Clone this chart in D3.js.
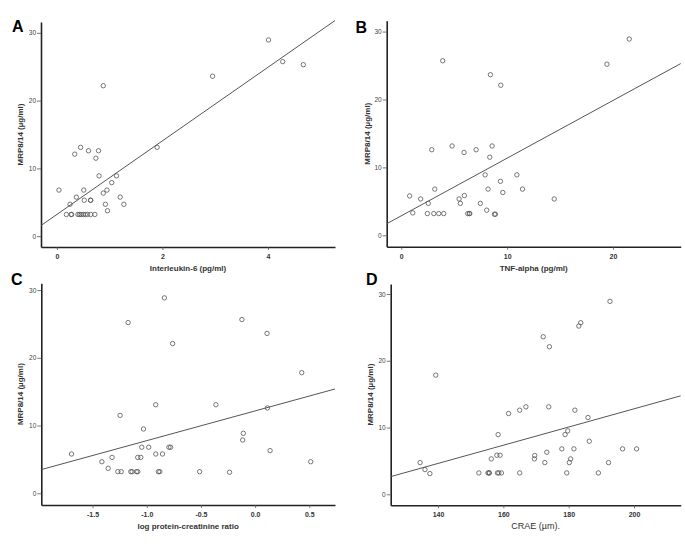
<!DOCTYPE html>
<html>
<head>
<meta charset="utf-8">
<script src="https://cdn.jsdelivr.net/npm/d3@7"></script>
<style>
  html, body { margin: 0; padding: 0; background: #fff; }
  svg { display: block; font-family: "Liberation Sans", Arial, sans-serif; }
</style>
</head>
<body>
<svg id="chart" width="685" height="546"></svg>
<script>
// ---------------- DATA ----------------
// Panel A: Interleukin-6 (pg/ml) vs MRP8/14
const il6X = [0.88, 2.95, 4.01, 4.28, 4.67,
  0.45, 0.34, 0.60, 0.79, 0.74, 1.90, 0.80, 1.13, 1.04, 0.04, 0.51, 0.95, 0.88,
  0.37, 1.20, 0.52, 0.64, 0.64, 0.25, 0.92, 1.27, 0.96,
  0.18, 0.27, 0.28, 0.40, 0.43, 0.46, 0.50, 0.54, 0.58, 0.64, 0.72];
const il6Y = [22.2, 23.6, 28.95, 25.75, 25.3,
  13.1, 12.1, 12.6, 12.6, 11.5, 13.1, 8.9, 8.9, 7.9, 6.8, 6.8, 6.8, 6.35,
  5.76, 5.76, 5.3, 5.3, 5.3, 4.7, 4.7, 4.7, 3.75,
  3.2, 3.2, 3.2, 3.2, 3.2, 3.2, 3.2, 3.2, 3.2, 3.2, 3.2];
// Panel B: TNF-alpha (pg/ml) vs MRP8/14
const tnfX = [3.91, 8.42, 9.40, 19.43, 21.54,
  2.88, 4.80, 5.93, 7.07, 8.58, 8.36, 7.92, 10.92, 9.37, 3.16, 8.20, 11.45, 9.59,
  0.79, 5.96, 1.83, 5.46, 14.45, 2.55, 5.58, 7.47, 8.07,
  1.08, 2.46, 3.07, 3.54, 4.01, 6.28, 6.43, 6.47, 8.80, 8.89];
const tnfY = [25.7, 23.65, 22.1, 25.2, 28.9,
  12.6, 13.15, 12.2, 12.6, 13.15, 11.5, 8.9, 8.9, 7.95, 6.8, 6.8, 6.8, 6.3,
  5.8, 5.85, 5.35, 5.35, 5.35, 4.7, 4.7, 4.7, 3.7,
  3.3, 3.2, 3.2, 3.2, 3.2, 3.2, 3.2, 3.2, 3.1, 3.1];
// Panel C: log protein-creatinine ratio vs MRP8/14
const pcrX = [-1.172, -0.837, -0.761, -0.122, 0.11, 0.43,
  -0.917, -0.362, 0.113, -1.246, -1.03, -0.109, -0.115, -1.694, -1.046, -0.982,
  -0.795, -0.78, -0.917, -0.855, 0.138, -1.414, -1.32, -1.083, -1.055, 0.513, -1.356,
  -1.267, -1.236, -1.147, -1.135, -1.095, -1.083, -0.892, -0.88, -0.512, -0.236];
const pcrY = [25.2, 28.85, 22.1, 25.65, 23.6, 17.8,
  13.07, 13.07, 12.6, 11.5, 9.5, 8.85, 7.86, 5.8, 6.8, 6.8,
  6.8, 6.8, 5.8, 5.8, 6.3, 4.66, 5.3, 5.3, 5.3, 4.66, 3.68,
  3.19, 3.19, 3.19, 3.19, 3.19, 3.19, 3.19, 3.19, 3.19, 3.1];
// Panel D: CRAE (µm) vs MRP8/14
const craeX = [139.3, 172.2, 174.1, 183.1, 183.7, 192.65,
  166.9, 173.9, 165.0, 181.9, 161.6, 185.9, 158.4, 179.7, 178.9, 186.3,
  177.9, 181.6, 196.5, 200.8, 173.3, 158.0, 159.0, 169.6, 156.3, 169.5, 180.6,
  134.5, 172.7, 180.2, 192.2, 136.0,
  137.5, 152.5, 155.3, 155.6, 155.7, 158.2, 158.6, 159.4, 165.0, 179.4, 189.1];
const craeY = [17.85, 23.6, 22.1, 25.2, 25.7, 28.9,
  13.1, 13.1, 12.6, 12.6, 12.1, 11.5, 8.94, 9.5, 8.94, 7.95,
  6.8, 6.8, 6.8, 6.8, 6.3, 5.85, 5.85, 5.8, 5.3, 5.3, 5.3,
  4.75, 4.75, 4.75, 4.75, 3.7,
  3.1, 3.2, 3.2, 3.2, 3.2, 3.2, 3.2, 3.2, 3.2, 3.2, 3.2];

// Fitted regression lines [intercept, slope]
const fitA = [3.2, 5.43];
const fitB = [2.87, 0.849];
const fitC = [12.16, 4.39];
const fitD = [-14.46, 0.1363];

// Tick values and labels
const yTicks = [0, 10, 20, 30];
const ticksA = [0, 2, 4];
const ticksB = [0, 10, 20];
const ticksC = [-1.5, -1.0, -0.5, 0.0, 0.5];
const ticksCLabels = ["-1.5", "-1.0", "-0.5", "0.0", "0.5"];
const ticksD = [140, 160, 180, 200];

const letters = ["A", "B", "C", "D"];
const xTitles = ["Interleukin-6 (pg/ml)", "TNF-alpha (pg/ml)", "log protein-creatinine ratio", "CRAE (\u00b5m)."];
const yTitle = "MRP8/14 (\u00b5g/ml)";

// ---------------- LAYOUT ----------------
const panels = [
  { x: il6X, y: il6Y, fit: fitA, xt: ticksA, xl: null,
    left: 41, right: 335, top: 22, bottom: 247, xd: [-0.3, 5.27], yd: [-1.6, 31.6],
    letter: [12, 32.3], ylab: 23, xtw: "bold", xts: 8 },
  { x: tnfX, y: tnfY, fit: fitB, xt: ticksB, xl: null,
    left: 386.7, right: 680.7, top: 20.7, bottom: 246.7, xd: [-1.38, 26.4], yd: [-1.68, 31.6],
    letter: [355.5, 32.6], ylab: 370, xtw: "bold", xts: 8 },
  { x: pcrX, y: pcrY, fit: fitC, xt: ticksC, xl: ticksCLabels,
    left: 41.3, right: 335, top: 283.3, bottom: 505, xd: [-1.973, 0.737], yd: [-1.73, 31.0],
    letter: [11, 285], ylab: 23, xtw: "bold", xts: 8 },
  { x: craeX, y: craeY, fit: fitD, xt: ticksD, xl: null,
    left: 390.7, right: 680.7, top: 284, bottom: 505.3, xd: [125.5, 214.3], yd: [-1.65, 31.5],
    letter: [366, 285], ylab: 373, xtw: "normal", xts: 9 }
];

const svg = d3.select("#chart");

panels.forEach((p, i) => {
  const xs = d3.scaleLinear().domain(p.xd).range([p.left, p.right]);
  const ys = d3.scaleLinear().domain(p.yd).range([p.bottom, p.top]);
  const g = svg.append("g");

  // y axis
  const ya = g.append("g").attr("transform", `translate(${p.left},0)`)
    .call(d3.axisLeft(ys).tickValues(yTicks).tickSize(4).tickSizeOuter(0).tickPadding(1).tickFormat(d3.format("d")));
  ya.select(".domain").attr("stroke", "#222").attr("stroke-width", 1.6);
  ya.selectAll(".tick line").attr("stroke", "#555").attr("stroke-width", 0.8);
  ya.selectAll(".tick text").attr("font-size", 6.5).attr("fill", "#444")
    .attr("font-family", "'Liberation Sans', Arial, sans-serif");

  // x axis
  const xa = g.append("g").attr("transform", `translate(0,${p.bottom})`)
    .call(d3.axisBottom(xs).tickValues(p.xt).tickSize(3).tickSizeOuter(0).tickPadding(4)
      .tickFormat((d, k) => p.xl ? p.xl[k] : d3.format("d")(d)));
  xa.select(".domain").attr("stroke", "#222").attr("stroke-width", 1.6);
  xa.selectAll(".tick line").attr("stroke", "#555").attr("stroke-width", 0.8);
  xa.selectAll(".tick text").attr("font-size", 7).attr("font-weight", "bold").attr("fill", "#333")
    .attr("font-family", "'Liberation Sans', Arial, sans-serif");

  // regression line
  const x0 = p.xd[0], x1 = p.xd[1];
  g.append("line")
    .attr("x1", xs(x0)).attr("y1", ys(p.fit[0] + p.fit[1] * x0))
    .attr("x2", xs(x1)).attr("y2", ys(p.fit[0] + p.fit[1] * x1))
    .attr("stroke", "#555").attr("stroke-width", 1);

  // points
  g.selectAll("circle.pt").data(p.x.map((v, k) => [v, p.y[k]])).enter()
    .append("circle").attr("class", "pt")
    .attr("cx", d => xs(d[0])).attr("cy", d => ys(d[1])).attr("r", 2.2)
    .attr("fill", "none").attr("stroke", "#555").attr("stroke-width", 0.8);

  // x title
  g.append("text").attr("x", (p.left + p.right) / 2).attr("y", p.bottom + 24)
    .attr("text-anchor", "middle").attr("font-size", p.xts).attr("font-weight", p.xtw).attr("fill", "#333")
    .text(xTitles[i]);

  // y title
  g.append("text")
    .attr("transform", `translate(${p.ylab},${(p.top + p.bottom) / 2}) rotate(-90)`)
    .attr("text-anchor", "middle").attr("font-size", 8).attr("font-weight", "bold").attr("fill", "#333")
    .text(yTitle);

  // panel letter
  g.append("text").attr("x", p.letter[0]).attr("y", p.letter[1])
    .attr("font-size", 16).attr("font-weight", "bold").attr("fill", "#000")
    .text(letters[i]);
});
</script>
</body>
</html>
